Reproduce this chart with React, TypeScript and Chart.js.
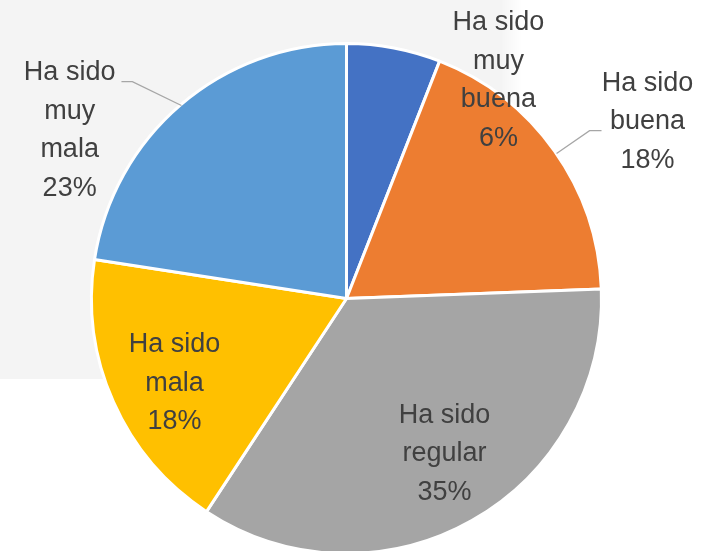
import React, { useEffect, useRef } from "react";
import { Chart, registerables } from "chart.js";

Chart.register(...registerables);

const categories = ["Ha sido muy buena", "Ha sido buena", "Ha sido regular", "Ha sido mala", "Ha sido muy mala"];
const values = [5.95, 18.45, 34.85, 18.2, 22.55];
const percentLabels = ["6%", "18%", "35%", "18%", "23%"];
const labelWords = [
  ["Ha sido", "muy", "buena"],
  ["Ha sido", "buena"],
  ["Ha sido", "regular"],
  ["Ha sido", "mala"],
  ["Ha sido", "muy", "mala"],
];
const colors = ["#4472C4", "#ED7D31", "#A5A5A5", "#FFC000", "#5B9BD5"];

// label block centers relative to pie center, in units of outer radius
const labelOffsets = [
  [0.598, -0.858],
  [1.185, -0.695],
  [0.386, 0.612],
  [-0.677, 0.333],
  [-1.09, -0.661],
];
// leader lines (relative coords), null when none
const leaders: (number[][] | null)[] = [
  null,
  [[0.827, -0.571], [0.957, -0.661], [1.004, -0.661]],
  null,
  null,
  [[-0.65, -0.76], [-0.843, -0.854], [-0.886, -0.854]],
];

const bgPlugin = {
  id: "bgRect",
  beforeDraw(chart: any) {
    const ctx = chart.ctx;
    ctx.save();
    const g = ctx.createLinearGradient(500, 0, 522, 0);
    g.addColorStop(0, "#F4F4F4");
    g.addColorStop(1, "#FFFFFF");
    ctx.fillStyle = "#F4F4F4";
    ctx.fillRect(0, 0, 502, 379);
    ctx.fillStyle = g;
    ctx.fillRect(502, 0, 20, 379);
    ctx.restore();
  },
};

const labelPlugin = {
  id: "sliceLabels",
  afterDatasetsDraw(chart: any) {
    const ctx = chart.ctx;
    const meta = chart.getDatasetMeta(0);
    const arc = meta.data[0];
    if (!arc) return;
    const cx = arc.x;
    const cy = arc.y;
    const R = 254;
    ctx.save();
    ctx.strokeStyle = "#A6A6A6";
    ctx.lineWidth = 1.3;
    leaders.forEach((pts) => {
      if (!pts) return;
      ctx.beginPath();
      pts.forEach((p, i) => {
        const x = cx + p[0] * R;
        const y = cy + p[1] * R;
        if (i === 0) ctx.moveTo(x, y);
        else ctx.lineTo(x, y);
      });
      ctx.stroke();
    });
    ctx.fillStyle = "#404040";
    ctx.font = "27px 'Liberation Sans', Arial, sans-serif";
    ctx.textAlign = "center";
    ctx.textBaseline = "middle";
    const lh = 38.5;
    labelWords.forEach((words, i) => {
      const lines = [...words, percentLabels[i]];
      const x = cx + labelOffsets[i][0] * R;
      const y = cy + labelOffsets[i][1] * R;
      const start = y - ((lines.length - 1) * lh) / 2;
      lines.forEach((t, j) => {
        ctx.fillText(t, x, start + j * lh);
      });
    });
    ctx.restore();
  },
};

export default function App() {
  const ref = useRef<HTMLCanvasElement>(null);
  useEffect(() => {
    document.body.style.margin = "0";
    const chart = new Chart(ref.current as HTMLCanvasElement, {
      type: "pie",
      data: {
        labels: categories,
        datasets: [
          {
            data: values,
            backgroundColor: colors,
            borderColor: "#FFFFFF",
            borderWidth: 3,
          },
        ],
      },
      options: {
        responsive: false,
        animation: false,
        layout: { padding: { left: 90, right: 104, top: 42, bottom: 45 } },
        plugins: {
          legend: { display: false },
          tooltip: { enabled: false },
        },
      },
      plugins: [bgPlugin, labelPlugin],
    });
    return () => chart.destroy();
  }, []);
  return (
    <div style={{ position: "absolute", left: 0, top: 0, width: 707, height: 600 }}>
      <canvas ref={ref} width={707} height={600} />
    </div>
  );
}
